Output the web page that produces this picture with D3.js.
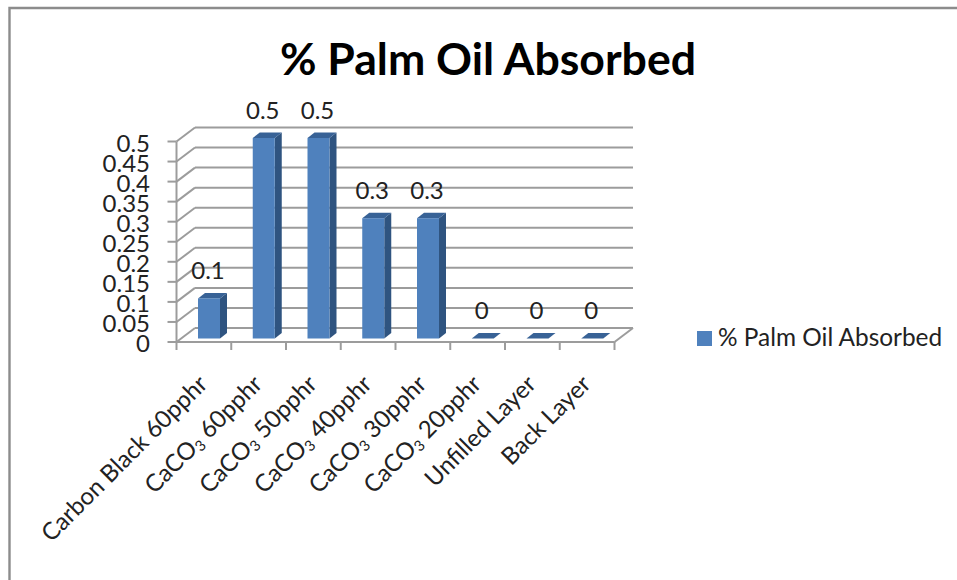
<!DOCTYPE html>
<html>
<head>
<meta charset="utf-8">
<script src="https://cdnjs.cloudflare.com/ajax/libs/d3/7.8.5/d3.min.js"></script>
<style>
  html, body { margin: 0; padding: 0; background: #fff; }
  svg { display: block; font-family: Lato, "Open Sans", sans-serif; }
</style>
</head>
<body>
<svg id="chart" width="957" height="580"></svg>
<script>
// Category names: [main text, subscript, trailing text]
const categories = [
  ["Carbon Black 60pphr", "", ""],
  ["CaCO", "3", " 60pphr"],
  ["CaCO", "3", " 50pphr"],
  ["CaCO", "3", " 40pphr"],
  ["CaCO", "3", " 30pphr"],
  ["CaCO", "3", " 20pphr"],
  ["Unfilled Layer", "", ""],
  ["Back Layer", "", ""]
];
const absorbed = [0.1, 0.5, 0.5, 0.3, 0.3, 0, 0, 0];
const yTicks = [0, 0.05, 0.1, 0.15, 0.2, 0.25, 0.3, 0.35, 0.4, 0.45, 0.5];
const yTickLabels = ["0", "0.05", "0.1", "0.15", "0.2", "0.25", "0.3", "0.35", "0.4", "0.45", "0.5"];
const seriesName = "% Palm Oil Absorbed";
const chartTitle = "% Palm Oil Absorbed";

const svg = d3.select("#chart");
const gridColor = "#9c9c9c";
const front = "#4f81bd", side = "#2f5480", top_ = "#386296";

// Frame around the chart area
svg.append("path")
  .attr("d", "M9.5,580V8H957")
  .attr("fill", "none").attr("stroke", "#8c8c8c").attr("stroke-width", 2.4);

svg.append("text")
  .attr("x", 488).attr("y", 75)
  .attr("text-anchor", "middle")
  .attr("font-size", 44.6).attr("font-weight", 700).attr("fill", "#000")
  .text(chartTitle);

// Front plane scales; the back wall is this plane shifted by the depth offset
const x = d3.scaleBand().domain(d3.range(categories.length)).range([176.5, 614.5]);
const y = d3.scaleLinear().domain([0, 0.5]).range([342, 141.5]);
const depth = { dx: 18.5, dy: -14 };
const barDepth = { dx: 7, dy: -5.5 };
const barInset = { dx: 21.5, dy: -3.5 };
const barWidth = 22;

const walls = svg.append("g").attr("fill", "none").attr("stroke", gridColor).attr("stroke-width", 2);
const x0 = x.range()[0], x1 = x.range()[1];

// Horizontal grid on the back wall and the slanted part on the side wall
yTicks.forEach(t => {
  walls.append("line")
    .attr("x1", x0 + depth.dx).attr("x2", x1 + depth.dx)
    .attr("y1", y(t) + depth.dy).attr("y2", y(t) + depth.dy);
  walls.append("line")
    .attr("x1", x0).attr("x2", x0 + depth.dx)
    .attr("y1", y(t)).attr("y2", y(t) + depth.dy);
  walls.append("line")
    .attr("x1", x0 - 9).attr("x2", x0)
    .attr("y1", y(t)).attr("y2", y(t));
});

// Vertical axis, floor edges and category ticks
walls.append("line").attr("x1", x0).attr("x2", x0).attr("y1", y(0.5)).attr("y2", y(0));
walls.append("line").attr("x1", x0).attr("x2", x1).attr("y1", y(0)).attr("y2", y(0));
walls.append("line").attr("x1", x1).attr("x2", x1 + depth.dx).attr("y1", y(0)).attr("y2", y(0) + depth.dy);
d3.range(categories.length + 1).forEach(i => {
  const tx = i < categories.length ? x(i) : x1;
  walls.append("line").attr("x1", tx).attr("x2", tx).attr("y1", y(0)).attr("y2", y(0) + 8);
});

// Value axis labels
svg.append("g").selectAll("text").data(yTicks).join("text")
  .attr("x", 150).attr("y", d => y(d) + 10)
  .attr("text-anchor", "end").attr("font-size", 24).attr("fill", "#222")
  .text((d, i) => yTickLabels[i]);

// Bars: front face, side face and top face
const bars = svg.append("g").selectAll("g").data(absorbed).join("g");
const bx = (d, i) => x(i) + barInset.dx;
const by = d => y(d) + barInset.dy;
const baseY = by(0);
bars.append("path").attr("fill", side)
  .attr("d", (d, i) => {
    const l = bx(d, i) + barWidth;
    return `M${l},${by(d)}L${l + barDepth.dx},${by(d) + barDepth.dy}V${baseY + barDepth.dy}L${l},${baseY}Z`;
  });
bars.append("path").attr("fill", top_)
  .attr("d", (d, i) => {
    const l = bx(d, i);
    return `M${l},${by(d)}L${l + barDepth.dx},${by(d) + barDepth.dy}H${l + barWidth + barDepth.dx}L${l + barWidth},${by(d)}Z`;
  });
bars.append("rect").attr("fill", front)
  .attr("x", bx).attr("width", barWidth)
  .attr("y", d => by(d)).attr("height", d => baseY - by(d));

// Value labels above each bar
svg.append("g").selectAll("text").data(absorbed).join("text")
  .attr("x", (d, i) => bx(d, i) + barWidth / 2 - 1)
  .attr("y", d => by(d) - 19.5)
  .attr("text-anchor", "middle").attr("font-size", 24).attr("fill", "#222")
  .text(d => d);

// Slanted category labels, anchored under each tick
const catLabels = svg.append("g").selectAll("text").data(categories).join("text")
  .attr("transform", (d, i) => `translate(${x(i) + x.bandwidth() / 2 + 5},${y(0) + 43.5}) rotate(-45)`)
  .attr("text-anchor", "end").attr("font-size", 24).attr("fill", "#222");
catLabels.append("tspan").text(d => d[0]);
catLabels.filter(d => d[1]).append("tspan").attr("font-size", 15).attr("dy", 3).text(d => d[1]);
catLabels.filter(d => d[1]).append("tspan").attr("dy", -3).text(d => d[2]);

// Legend
svg.append("rect").attr("x", 697).attr("y", 331).attr("width", 15).attr("height", 15).attr("fill", front);
svg.append("text").attr("x", 718).attr("y", 346)
  .attr("font-size", 24.4).attr("fill", "#222").text(seriesName);
</script>
</body>
</html>
